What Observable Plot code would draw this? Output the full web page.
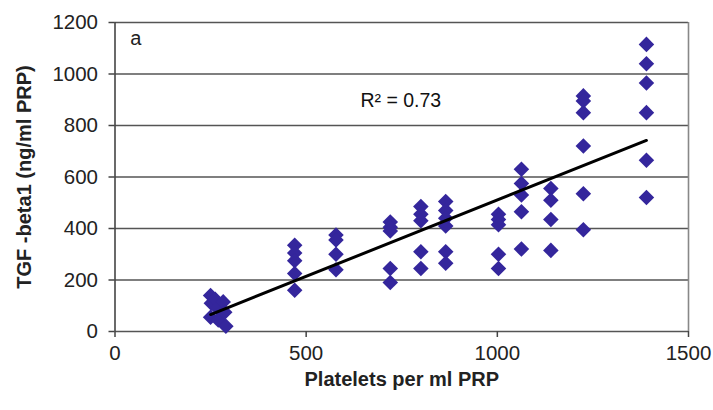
<!DOCTYPE html>
<html><head><meta charset="utf-8">
<script src="https://cdn.jsdelivr.net/npm/d3@7"></script>
<script src="https://cdn.jsdelivr.net/npm/@observablehq/plot@0.6"></script>
<style>body{margin:0;background:#fff} svg{display:block}</style>
</head><body><div id="chart"></div>
<script>
// Platelets per ml PRP (x) and TGF-beta1 ng/ml PRP (y)
const platelets = [
  250, 252, 250, 262, 268, 270, 283, 287, 290,
  470, 470, 470, 470, 470,
  578, 578, 578, 578,
  720, 720, 720, 720, 720,
  800, 800, 800, 800, 800,
  865, 865, 865, 865, 865, 865,
  1003, 1003, 1003, 1003, 1003,
  1063, 1063, 1063, 1063, 1063,
  1140, 1140, 1140, 1140,
  1225, 1225, 1225, 1225, 1225, 1225,
  1390, 1390, 1390, 1390, 1390, 1390
];
const tgfBeta1 = [
  140, 110, 55, 125, 90, 45, 115, 75, 20,
  335, 305, 275, 225, 160,
  375, 355, 300, 240,
  425, 405, 390, 245, 190,
  485, 455, 430, 310, 245,
  505, 470, 440, 410, 310, 265,
  455, 435, 415, 300, 245,
  630, 575, 530, 465, 320,
  555, 510, 435, 315,
  915, 895, 850, 720, 535, 395,
  1115, 1040, 965, 850, 665, 520
];
const xTicks = [0, 500, 1000, 1500];
const yTicks = [0, 200, 400, 600, 800, 1000, 1200];
const xTitle = "Platelets per ml PRP";
const yTitle = "TGF -beta1 (ng/ml PRP)";
const r2Label = "R\u00B2 = 0.73";
const panelLabel = "a";

const data = platelets.map((x, i) => ({x, y: tgfBeta1[i]}));

const chart = Plot.plot({
  width: 713, height: 410,
  marginLeft: 114.5, marginRight: 25, marginTop: 22, marginBottom: 79,
  style: {fontFamily: "'Liberation Sans', Arial, sans-serif", fontSize: "20.5px", background: "white", color: "#222"},
  x: {domain: [0, 1500]},
  y: {domain: [0, 1200]},
  marks: [
    Plot.ruleY(yTicks, {stroke: "#555", strokeWidth: 1.6}),
    Plot.ruleX([1500], {stroke: "#888", strokeWidth: 1.6}),
    Plot.axisY({ticks: yTicks, tickFormat: d => String(d), tickSize: 6, tickPadding: 11, label: null, stroke: "#444", strokeWidth: 1.5}),
    Plot.axisX({ticks: xTicks, tickFormat: d => String(d), tickSize: 6, tickPadding: 8, label: null, stroke: "#444", strokeWidth: 1.5}),
    Plot.ruleX([0], {stroke: "#444", strokeWidth: 1.6}),
    Plot.dot(data, {x: "x", y: "y", symbol: "diamond2", r: 7, fill: "#34269c", stroke: null}),
    Plot.linearRegressionY(data, {x: "x", y: "y", ci: 0, stroke: "black", strokeWidth: 3}),
    Plot.text([r2Label], {x: 642, y: 897, textAnchor: "start", fontSize: 19.5, fill: "#111"}),
    Plot.text([panelLabel], {x: 40, y: 1138, textAnchor: "start", fontSize: 20, fill: "#222"}),
    Plot.text([xTitle], {frameAnchor: "bottom", dy: 54, textAnchor: "middle", fontSize: 20, fontWeight: "bold", fill: "#222"}),
    Plot.text([yTitle], {frameAnchor: "left", dx: -90, rotate: -90, textAnchor: "middle", fontSize: 20, fontWeight: "bold", fill: "#222"})
  ]
});
document.getElementById("chart").append(chart);
</script>
</body></html>
